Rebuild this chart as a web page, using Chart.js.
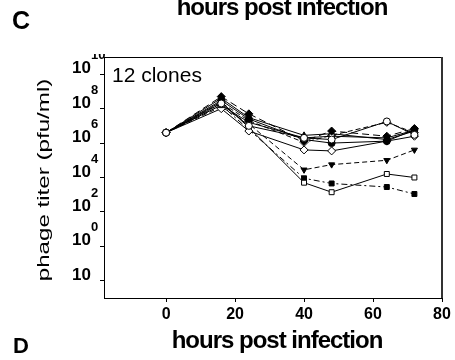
<!DOCTYPE html>
<html>
<head>
<meta charset="utf-8">
<script src="https://cdn.jsdelivr.net/npm/chart.js@4/dist/chart.umd.min.js"></script>
<style>
  body { margin: 0; background: #fff; }
  canvas { display: block; }
</style>
</head>
<body>
<canvas id="chart" width="455" height="360"></canvas>
<script>
// hours post infection
const hours = [0, 16, 24, 40, 48, 64, 72];

// phage titer (pfu/ml), one array per clone line that can be told apart
const cloneA = [4e6, 2e8, 1e7, 2e6, 1.6e6, 1.8e7, 3e6];
const cloneB = [4e6, 5e8, 5e7, 1.3e6, 5e6, 2.5e6, 7e6];
const cloneC = [4e6, 3e8, 2.5e7, 1.6e6, 1e6, 1.3e6, 6e6];
const cloneD = [4e6, 1.6e8, 1.6e7, 2e6, 2.5e6, 2e6, 5.6e6];
const cloneE = [4e6, 1e8, 5e6, 4e5, 3.5e5, 1.3e6, 2.5e6];
const cloneF = [4e6, 1.3e8, 1.3e7, 2.8e4, 5.6e4, 1e5, 4e5];
const cloneG = [4e6, 2.5e8, 8e6, 5e3, 1.4e3, 1.6e4, 1e4];
const cloneH = [4e6, 1.6e8, 6e6, 9e3, 4.5e3, 2.8e3, 1.1e3];
const cloneI = [4e6, 4e8, 3e7, 2.8e6, 3.5e6, 1.6e6, 5e6];
const cloneJ = [4e6, 2.2e8, 2e7, 1.1e6, 2.8e6, 1.6e7, 4e6];

const xTicks = [0, 20, 40, 60, 80];
const yTicks = [1e10, 1e8, 1e6, 1e4, 1e2, 1, 1e-2];
const yTickSup = ['10', '8', '6', '4', '2', '0', ''];

const FONT = '"Liberation Sans", Arial, sans-serif';
Chart.defaults.font.family = FONT;
Chart.defaults.color = '#000';

function line(values, style, filled, dash, rot) {
  return {
    data: hours.map((h, i) => ({x: h, y: values[i]})),
    borderColor: '#000',
    borderWidth: 1,
    borderDash: dash || [],
    pointStyle: style,
    pointRotation: rot || 0,
    pointRadius: style === 'rectRot' ? 4 : 3.5,
    pointBorderColor: '#000',
    pointBorderWidth: 1,
    pointBackgroundColor: filled ? '#000' : '#fff',
    tension: 0
  };
}

const datasets = [
  line(cloneA, 'circle', false),
  line(cloneB, 'rectRot', true, [7, 4]),
  line(cloneC, 'circle', true),
  line(cloneD, 'rect', false),
  line(cloneE, 'rectRot', false),
  line(cloneF, 'triangle', true, [5, 3], 180),
  line(cloneG, 'rect', false),
  line(cloneH, 'rect', true, [6, 3, 2, 3]),
  line(cloneI, 'triangle', true),
  line(cloneJ, 'rectRot', false, [5, 3])
];

const extras = {
  id: 'extras',
  afterDraw(chart) {
    const ctx = chart.ctx;
    const a = chart.chartArea;
    const ys = chart.scales.y;
    ctx.save();
    // frame top and right
    ctx.strokeStyle = '#000';
    ctx.lineWidth = 1;
    ctx.beginPath();
    ctx.moveTo(a.left, a.top + 0.5);
    ctx.lineTo(a.right, a.top + 0.5);
    ctx.stroke();
    ctx.strokeStyle = '#333';
    ctx.lineWidth = 2;
    ctx.beginPath();
    ctx.moveTo(a.right, a.top);
    ctx.lineTo(a.right, a.bottom);
    ctx.stroke();

    ctx.fillStyle = '#000';
    // y tick labels with exponents
    ctx.save();
    ctx.beginPath();
    ctx.rect(0, 54, 455, 306);
    ctx.clip();
    ctx.textBaseline = 'alphabetic';
    yTicks.forEach((v, i) => {
      const y = ys.getPixelForValue(v);
      ctx.font = 'bold 17px ' + FONT;
      ctx.textAlign = 'right';
      ctx.fillText('10', 91, y - 1);
      if (yTickSup[i]) {
        ctx.font = 'bold 13px ' + FONT;
        ctx.textAlign = 'left';
        ctx.fillText(yTickSup[i], 91, y - 15);
      }
    });
    ctx.restore();

    // panel letters
    ctx.textAlign = 'left';
    ctx.font = 'bold 25px ' + FONT;
    ctx.fillText('C', 12, 29);
    ctx.font = 'bold 22px ' + FONT;
    ctx.fillText('D', 13, 353);

    // axis titles
    ctx.font = 'bold 24px ' + FONT;
    ctx.textAlign = 'center';
    ctx.letterSpacing = '-1px';
    ctx.fillText('hours post infection', 282, 15);
    ctx.fillText('hours post infection', 277, 348);

    ctx.font = '21px ' + FONT;
    ctx.textAlign = 'left';
    ctx.letterSpacing = '0px';
    ctx.fillText('12 clones', 112, 82);

    ctx.save();
    ctx.translate(44, 180);
    ctx.rotate(-Math.PI / 2);
    ctx.scale(1.42, 1);
    ctx.font = '17px ' + FONT;
    ctx.textAlign = 'center';
    ctx.textBaseline = 'middle';
    ctx.fillText('phage titer (pfu/ml)', 0, 0);
    ctx.restore();
    ctx.restore();
  }
};

new Chart(document.getElementById('chart'), {
  type: 'line',
  data: {datasets: datasets},
  options: {
    responsive: false,
    animation: false,
    layout: {padding: {top: 57, right: 13, left: 0, bottom: 0}},
    plugins: {legend: {display: false}, tooltip: {enabled: false}},
    scales: {
      x: {
        type: 'linear',
        min: -18,
        max: 80,
        afterBuildTicks: s => { s.ticks = xTicks.map(v => ({value: v})); },
        afterFit: s => { s.height = 62; s.paddingLeft = 0; s.paddingRight = 0; },
        grid: {display: true, drawOnChartArea: false, drawTicks: true, tickLength: 4, color: '#000'},
        border: {display: true, color: '#000', width: 1},
        ticks: {font: {size: 16, weight: 'bold'}, padding: 3, maxRotation: 0}
      },
      y: {
        type: 'logarithmic',
        min: 1e-3,
        max: 1e11,
        afterBuildTicks: s => { s.ticks = yTicks.map(v => ({value: v})); },
        afterFit: s => { s.width = 104; },
        grid: {display: true, drawOnChartArea: false, drawTicks: true, tickLength: 4, color: '#000'},
        border: {display: true, color: '#000', width: 1},
        ticks: {display: false}
      }
    }
  },
  plugins: [extras]
});
</script>
</body>
</html>
